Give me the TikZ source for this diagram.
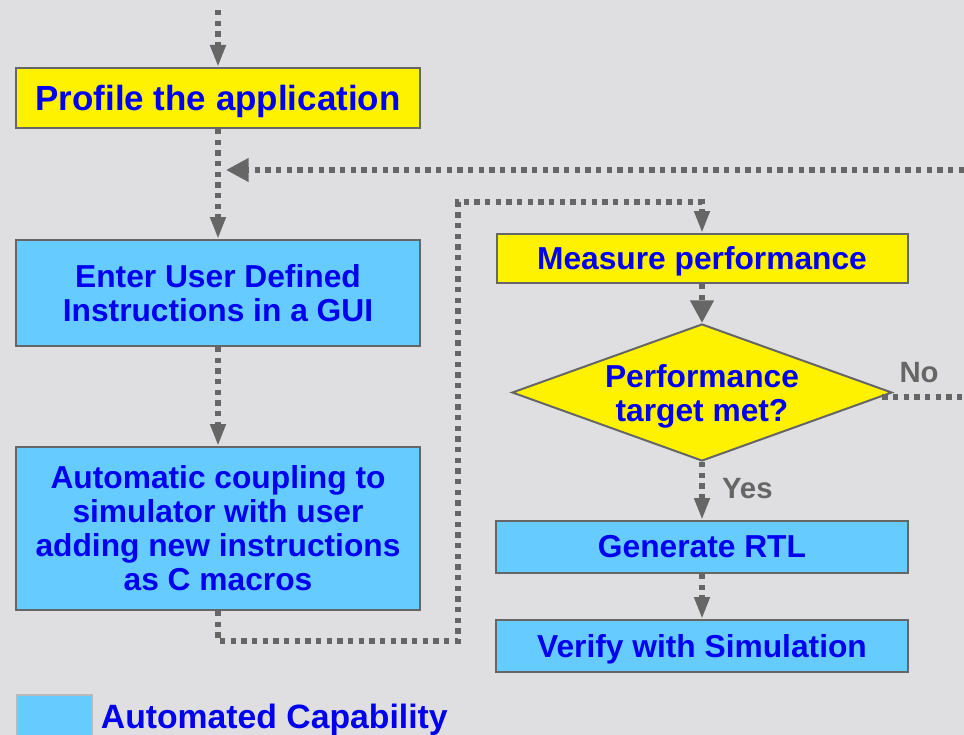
\documentclass[tikz,border=0pt]{standalone}
\usepackage{fontspec}
\setmainfont{Liberation Sans}
\usetikzlibrary{arrows.meta,positioning,shapes.geometric}
\definecolor{bggray}{RGB}{223,223,225}
\definecolor{linegray}{RGB}{102,102,102}
\definecolor{autoblue}{RGB}{102,204,255}
\definecolor{textblue}{RGB}{0,0,240}

\begin{document}
\begin{tikzpicture}[x=0.75pt,y=-0.75pt]
  \tikzset{>={Triangle[length=16.5pt,width=11pt]},
    box/.style={draw=linegray,line width=1.5pt,align=center,inner sep=0pt,
      text=textblue,font=\fontsize{23.8}{25.5}\selectfont\bfseries},
    userbox/.style={box,fill=yellow},
    autobox/.style={box,fill=autoblue},
    flow/.style={draw=linegray,line width=4pt,dash pattern=on 4pt off 4pt},
    bigtip/.style={-{Triangle[length=17pt,width=17pt]}},
    tag/.style={text=linegray,inner sep=0pt,font=\fontsize{22}{24}\selectfont\bfseries}}
  \useasboundingbox (0,0) rectangle (964,735);
  \fill[bggray] (0,0) rectangle (964,735);

  \node[userbox,minimum width=303pt,minimum height=45pt,text depth=0pt,
    font=\fontsize{26.2}{28}\selectfont\bfseries] (profile) at (218,98) {Profile the application};
  \node[autobox,minimum width=303pt,minimum height=79.5pt,below=82.5pt of profile] (enter)
    {Enter User Defined\\Instructions in a GUI};
  \node[autobox,minimum width=303pt,minimum height=122.25pt,below=74.25pt of enter] (coupling)
    {Automatic coupling to\\simulator with user\\adding new instructions\\as C macros};
  \node[userbox,minimum width=308.25pt,minimum height=36.75pt,text depth=0.1em] (measure)
    at (702,258.5) {Measure performance};
  \node[diamond,draw=linegray,line width=1.5pt,fill=yellow,inner sep=0pt,
    minimum width=285pt,minimum height=102.75pt,below=29.25pt of measure] (target) {};
  \node[box,draw=none,yshift=-3pt] (targettext) at (target) {Performance\\target met?};
  \node[autobox,minimum width=309pt,minimum height=39pt,below=43.5pt of target] (rtl)
    {Generate RTL};
  \node[autobox,minimum width=309pt,minimum height=39pt,text depth=0pt,below=33.75pt of rtl] (verify)
    {Verify with Simulation};

  \node[draw=gray!55,line width=1.5pt,fill=autoblue,anchor=north west,
    minimum width=56pt,minimum height=37.5pt] (legend) at (16,694) {};
  \node[right=6pt of legend,inner sep=0pt,text=textblue,
    font=\fontsize{25.3}{27}\selectfont\bfseries] (legendtext) {Automated Capability};

  \coordinate (entry) at (218,10);
  \coordinate (loopin) at (964,170);
  \coordinate (noexit) at (964,397);
  \draw[flow,->] (entry) -- (profile);
  \draw[flow,->] (profile) -- (enter);
  \draw[flow,bigtip] (loopin) -- ([xshift=6pt]loopin -| profile);
  \draw[flow,->] (enter) -- (coupling);
  \draw[flow,->] (coupling.south) -- ++(0,30) -| (458,202) -| (measure.north);
  \draw[flow,bigtip] (measure) -- (target);
  \draw[flow,->] (target) -- node[tag,right=13pt,yshift=2pt] {Yes} (rtl);
  \draw[flow] ([xshift=-8pt]noexit -| target.east) -- node[tag,above=9pt,pos=0.45] {No} (noexit);
  \draw[flow,->] (rtl) -- (verify);
\end{tikzpicture}
\end{document}
